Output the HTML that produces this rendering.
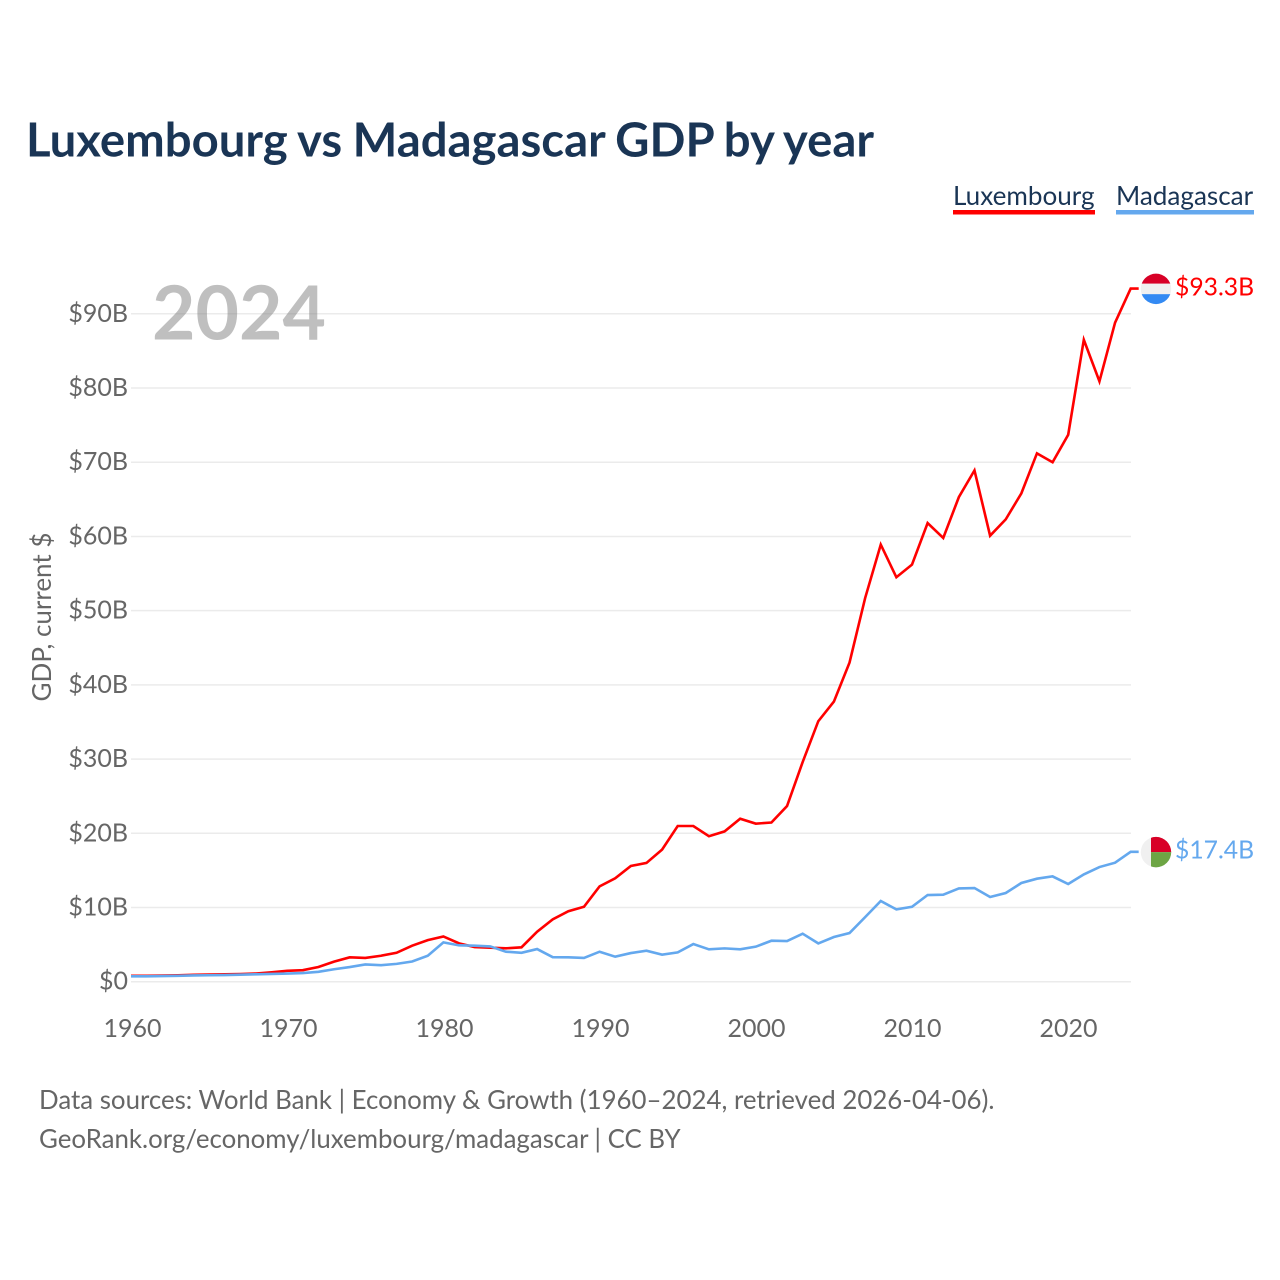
<!DOCTYPE html>
<html lang="en">
<head>
<meta charset="utf-8">
<title>Luxembourg vs Madagascar GDP by year</title>
<style>
html,body{margin:0;padding:0;background:#fff}
svg{display:block}
text{font-family:"Lato","Carlito","Liberation Sans",sans-serif}
</style>
</head>
<body>
<svg id="chart" xmlns="http://www.w3.org/2000/svg" width="1280" height="1280" viewBox="0 0 1280 1280">
  <defs>
    <clipPath id="flag-clip-lu"><circle id="clip-lu" cx="1156" cy="288" r="15.2"></circle></clipPath>
    <clipPath id="flag-clip-mg"><circle id="clip-mg" cx="1156" cy="851" r="15.2"></circle></clipPath>
  </defs>
  <rect width="1280" height="1280" fill="#fff"></rect>
  <text x="26" y="156.6" font-size="47.3" font-weight="700" word-spacing="-1.1" fill="#1a3555">Luxembourg vs Madagascar GDP by year</text>

  <g>
    <text x="953" y="205" font-size="26.1" fill="#1a3555">Luxembourg</text>
    <rect x="953" y="210" width="142" height="4.5" fill="#ff0000"></rect>
  </g>
  <g>
    <text x="1116" y="205" font-size="26.1" fill="#1a3555">Madagascar</text>
    <rect x="1116" y="210" width="138" height="4.5" fill="#64a8ee"></rect>
  </g>

  <g id="grid"></g>
  <g id="y-ticks"></g>
  <g id="x-ticks"></g>
  <text transform="translate(51 617) rotate(-90)" text-anchor="middle" font-size="26" fill="#666">GDP, current $</text>
  <text x="152" y="339.5" font-size="75" font-weight="700" fill="#808080" fill-opacity="0.5">2024</text>

  <polyline id="line-lu" fill="none" stroke="#ff0000" stroke-width="2.6" stroke-linejoin="miter"></polyline>
  <polyline id="line-mg" fill="none" stroke="#64a8ee" stroke-width="2.6" stroke-linejoin="miter"></polyline>
  <g id="end-lu"></g>
  <g id="end-mg"></g>

  <text x="39" y="1109" font-size="25.85" fill="#666">Data sources: World Bank | Economy &amp; Growth (1960–2024, retrieved 2026-04-06).</text>
  <text x="39" y="1148" font-size="25.85" fill="#666">GeoRank.org/economy/luxembourg/madagascar | CC BY</text>
</svg>
<script>
const firstYear = 1960;
const yTickValues = [0, 10, 20, 30, 40, 50, 60, 70, 80, 90];
const yTickLabels = ['$0', '$10B', '$20B', '$30B', '$40B', '$50B', '$60B', '$70B', '$80B', '$90B'];
const xTickYears = [1960, 1970, 1980, 1990, 2000, 2010, 2020];
const luxembourgGdp = [0.8, 0.8, 0.82, 0.86, 0.93, 0.96, 1.0, 1.03, 1.1, 1.27, 1.47, 1.55, 1.98, 2.7, 3.28, 3.2, 3.5, 3.9, 4.85, 5.6, 6.1, 5.17, 4.67, 4.58, 4.5, 4.63, 6.74, 8.4, 9.5, 10.1, 12.85, 13.93, 15.6, 16.0, 17.8, 20.98, 20.98, 19.6, 20.25, 21.96, 21.3, 21.45, 23.67, 29.6, 35.1, 37.75, 43.0, 51.7, 58.9, 54.5, 56.2, 61.8, 59.8, 65.3, 68.9, 60.1, 62.3, 65.8, 71.2, 70.0, 73.7, 86.5, 80.9, 88.8, 93.4];
const madagascarGdp = [0.72, 0.72, 0.76, 0.79, 0.84, 0.87, 0.9, 0.95, 1.0, 1.05, 1.1, 1.17, 1.33, 1.68, 1.97, 2.32, 2.22, 2.4, 2.72, 3.5, 5.3, 4.9, 4.85, 4.75, 4.04, 3.9, 4.4, 3.3, 3.28, 3.2, 4.04, 3.37, 3.86, 4.18, 3.64, 3.95, 5.07, 4.36, 4.49, 4.36, 4.72, 5.52, 5.48, 6.47, 5.16, 6.02, 6.56, 8.7, 10.87, 9.74, 10.1, 11.68, 11.72, 12.57, 12.62, 11.41, 11.95, 13.3, 13.88, 14.19, 13.16, 14.46, 15.45, 16.03, 17.5];
const luxembourgLabel = '$93.3B';
const madagascarLabel = '$17.4B';

const NS = 'http://www.w3.org/2000/svg';
const xPlot = function (year) { return 131 + (year - firstYear) * 15.62; };
const xLabel = function (year) { return 132.5 + (year - firstYear) * 15.6; };
const yPlot = function (value) { return 981.7 - value * 7.421; };
const makeEl = function (tag, parent, props) {
  const el = document.createElementNS(NS, tag);
  Object.keys(props).forEach(function (k) { el.setAttribute(k, props[k]); });
  parent.appendChild(el);
  return el;
};

const gridGroup = document.getElementById('grid');
const yTickGroup = document.getElementById('y-ticks');
const xTickGroup = document.getElementById('x-ticks');

yTickValues.forEach(function (value, i) {
  const line = makeEl('line', gridGroup, { x1: 131, x2: 1131, y1: yPlot(value), y2: yPlot(value), stroke: '#ebebeb', 'stroke-width': 1.5 });
  
  
  const label = makeEl('text', yTickGroup, { x: 128, y: yPlot(value) + 8, 'text-anchor': 'end', 'font-size': 25, fill: '#666' });
  label.textContent = yTickLabels[i];
  
  
});

xTickYears.forEach(function (year) {
  const label = makeEl('text', xTickGroup, { x: xLabel(year), y: 1037, 'text-anchor': 'middle', 'font-size': 25, fill: '#666' });
  label.textContent = String(year);
  
  
});

const toPoints = function (values) {
  return values.map(function (v, i) { return xPlot(firstYear + i).toFixed(2) + ',' + yPlot(v).toFixed(2); }).join(' ');
};

const drawEnd = function (groupId, lineId, values, color, text, kind) {
  const lastIdx = values.length - 1;
  const xEnd = xPlot(firstYear + lastIdx);
  const yEnd = yPlot(values[lastIdx]);
  document.getElementById(lineId).setAttribute('points', toPoints(values) + ' ' + (xEnd + 8) + ',' + yEnd.toFixed(2));
  const group = document.getElementById(groupId);
  const cx = 1156;
  const cy = yEnd + 0.3;
  document.getElementById(kind === 'lu' ? 'clip-lu' : 'clip-mg').setAttribute('cy', cy);
  const flag = makeEl('g', group, { 'clip-path': 'url(#flag-clip-' + kind + ')' });
  
  
  if (kind === 'lu') {
    makeEl('rect', flag, { x: cx - 16, y: cy - 16, width: 32, height: 32, fill: '#f0f0f0' });
    makeEl('rect', flag, { x: cx - 16, y: cy - 16, width: 32, height: 10.7, fill: '#d80027' });
    makeEl('rect', flag, { x: cx - 16, y: cy + 5.3, width: 32, height: 11, fill: '#338af3' });
  } else {
    makeEl('rect', flag, { x: cx - 16, y: cy - 16, width: 32, height: 32, fill: '#f0f0f0' });
    makeEl('rect', flag, { x: cx - 5, y: cy - 16, width: 21, height: 16, fill: '#d80027' });
    makeEl('rect', flag, { x: cx - 5, y: cy, width: 21, height: 16, fill: '#6da544' });
  }
  const label = makeEl('text', group, { x: 1175, y: cy + 6.6, 'font-size': 24.7, fill: color });
  label.textContent = text;
  
  
};

drawEnd('end-lu', 'line-lu', luxembourgGdp, '#ff0000', luxembourgLabel, 'lu');
drawEnd('end-mg', 'line-mg', madagascarGdp, '#64a8ee', madagascarLabel, 'mg');
</script>
</body>
</html>
